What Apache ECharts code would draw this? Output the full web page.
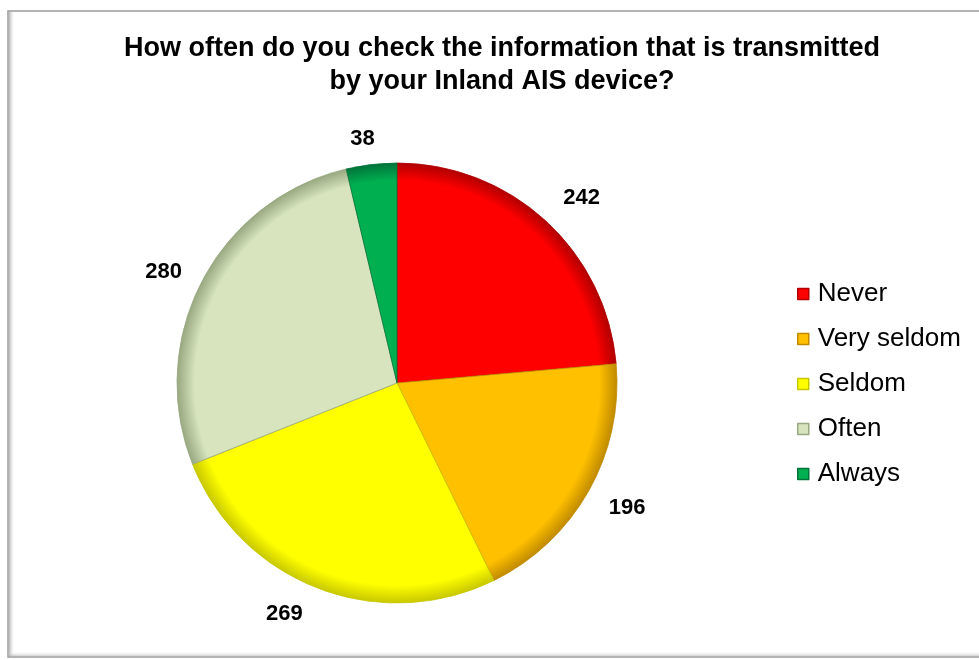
<!DOCTYPE html>
<html>
<head>
<meta charset="utf-8">
<script src="https://cdn.jsdelivr.net/npm/echarts@6/dist/echarts.min.js"></script>
<style>
  html, body { margin: 0; padding: 0; background: #fff; }
  #chart { width: 979px; height: 660px; }
</style>
</head>
<body>
<div id="chart"></div>
<script>
// Survey answers and their counts
const categories = ['Never', 'Very seldom', 'Seldom', 'Often', 'Always'];
const counts = [242, 196, 269, 280, 38];
const baseColors = ['#FF0000', '#FFC000', '#FFFF00', '#D7E4BD', '#00B050'];
const rimColors = ['#B00000', '#C08A00', '#C8C800', '#98A880', '#00733A'];

// Small nudges for the value labels around the pie (px)
const labelNudge = [[7, 9], [1, -4], [-18, -14], [0, 10], [-4, 17]];

const FONT = '"Liberation Sans", Arial, sans-serif';
const CX = 397, CY = 383, R = 220;

// Darkened rim on each slice for a bevelled look
function bevel(i) {
  return {
    type: 'radial', x: CX, y: CY, r: R, global: true,
    colorStops: [
      { offset: 0, color: baseColors[i] },
      { offset: 0.92, color: baseColors[i] },
      { offset: 1, color: rimColors[i] }
    ]
  };
}

const sliceData = categories.map((name, i) => ({
  name,
  value: counts[i],
  itemStyle: { color: bevel(i), borderColor: rimColors[i], borderWidth: 0.8 }
}));

// Transparent ring whose inner labels sit just outside the pie
const labelData = categories.map((name, i) => ({
  name,
  value: counts[i],
  itemStyle: { color: 'rgba(0,0,0,0)' },
  label: { offset: labelNudge[i] }
}));

const chart = echarts.init(document.getElementById('chart'), null, { renderer: 'canvas' });

chart.setOption({
  backgroundColor: '#ffffff',
  animation: false,
  title: {
    text: 'How often do you check the information that is transmitted\nby your Inland AIS device?',
    left: 497,
    top: 27,
    textAlign: 'center',
    textStyle: {
      fontFamily: FONT, fontWeight: 'bold', fontSize: 27,
      lineHeight: 33, color: '#000'
    }
  },
  legend: {
    orient: 'vertical',
    left: 792,
    top: 276,
    itemWidth: 11,
    itemHeight: 11,
    itemGap: 19,
    icon: 'rect',
    textStyle: { fontFamily: FONT, fontSize: 26, color: '#000', padding: [0, 0, 0, 4] },
    data: categories.map((name, i) => ({
      name,
      itemStyle: { color: baseColors[i], borderColor: rimColors[i], borderWidth: 1.5 }
    }))
  },
  graphic: [
    {
      type: 'rect',
      silent: true,
      shape: { x: 8, y: 11, width: 990, height: 646 },
      style: { fill: 'none', stroke: '#9a9a9a', lineWidth: 1.5 }
    },
    {
      type: 'rect',
      silent: true,
      shape: { x: 9, y: 12, width: 6, height: 644 },
      style: {
        fill: {
          type: 'linear', x: 0, y: 0, x2: 1, y2: 0,
          colorStops: [
            { offset: 0, color: 'rgba(150,150,150,0.7)' },
            { offset: 1, color: 'rgba(255,255,255,0)' }
          ]
        }
      }
    },
    {
      type: 'rect',
      silent: true,
      shape: { x: 9, y: 651, width: 990, height: 5 },
      style: {
        fill: {
          type: 'linear', x: 0, y: 1, x2: 0, y2: 0,
          colorStops: [
            { offset: 0, color: 'rgba(180,180,180,0.6)' },
            { offset: 1, color: 'rgba(255,255,255,0)' }
          ]
        }
      }
    }
  ],
  series: [
    {
      type: 'pie',
      center: [CX, CY],
      radius: [0, R],
      startAngle: 90,
      clockwise: true,
      label: { show: false },
      labelLine: { show: false },
      emphasis: { disabled: true },
      data: sliceData
    },
    {
      type: 'pie',
      silent: true,
      center: [CX, CY],
      radius: [240, 280],
      startAngle: 90,
      clockwise: true,
      label: {
        show: true,
        position: 'inside',
        formatter: '{c}',
        fontFamily: FONT,
        fontWeight: 'bold',
        fontSize: 22,
        color: '#000'
      },
      labelLine: { show: false },
      emphasis: { disabled: true },
      data: labelData
    }
  ]
});
</script>
</body>
</html>
